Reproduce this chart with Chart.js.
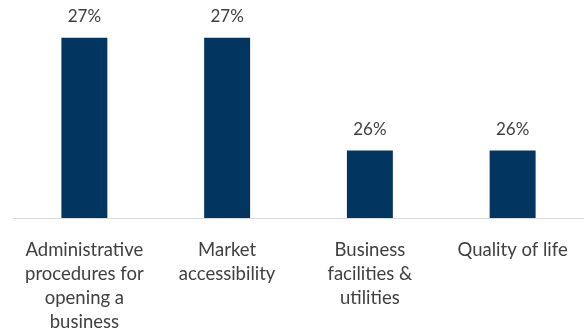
<!DOCTYPE html>
<html>
<head>
<meta charset="utf-8">
<script src="https://cdn.jsdelivr.net/npm/chart.js@4"></script>
<style>
  html, body { margin: 0; padding: 0; background: #fff; }
  #wrap { width: 584px; height: 333px; }
</style>
</head>
<body>
<div id="wrap"><canvas id="chart"></canvas></div>
<script>
// --- Dados ---
const categories = [
    ['Administrative', 'procedures for', 'opening a', 'business'],
    ['Market', 'accessibility'],
    ['Business', 'facilities &', 'utilities'],
    ['Quality of life']
];
const shares = [27, 27, 26, 26];
const shareLabels = ['27%', '27%', '26%', '26%'];

// Plugin simples para escrever os valores acima das barras
const valueLabels = {
    id: 'valueLabels',
    afterDatasetsDraw(chart) {
        const ctx = chart.ctx;
        const meta = chart.getDatasetMeta(0);
        ctx.save();
        ctx.font = '17px Lato';
        ctx.fillStyle = '#404040';
        ctx.textAlign = 'center';
        ctx.textBaseline = 'middle';
        meta.data.forEach((bar, i) => {
            ctx.fillText(shareLabels[i], bar.x, bar.y - 21);
        });
        ctx.restore();
    }
};

new Chart(document.getElementById('chart'), {
    type: 'bar',
    data: {
        labels: categories,
        datasets: [{
            data: shares,
            backgroundColor: '#023660',
            categoryPercentage: 1,
            barPercentage: 0.322
        }]
    },
    options: {
        responsive: true,
        maintainAspectRatio: false,
        animation: false,
        layout: { padding: { top: 4, left: 13, right: 0, bottom: 0 } },
        plugins: { legend: { display: false }, tooltip: { enabled: false } },
        scales: {
            x: {
                grid: { display: false, drawTicks: false },
                border: { color: '#d9d9d9', width: 1 },
                afterFit(scale) {
                    // altura fixa do eixo e sem recuo extra para o último rótulo
                    scale.height = 115;
                    scale.paddingLeft = 0;
                    scale.paddingRight = 0;
                },
                ticks: {
                    color: '#404040',
                    padding: 20,
                    maxRotation: 0,
                    autoSkip: false,
                    font: { family: 'Lato', size: 18.5, lineHeight: 1.3 }
                }
            },
            y: {
                display: false,
                min: 25.4,
                max: 27.3
            }
        }
    },
    plugins: [valueLabels]
});
</script>
</body>
</html>
